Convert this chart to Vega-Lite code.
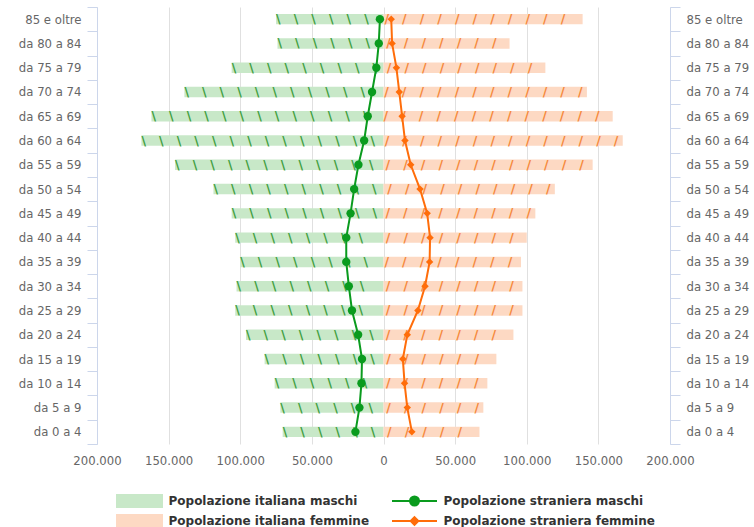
{
  "$schema": "https://vega.github.io/schema/vega-lite/v6.json",
  "autosize": {"type": "none"},
  "width": 573,
  "height": 437,
  "padding": {"left": 97, "right": 84, "top": 7, "bottom": 83},
  "config": {"view": {"stroke": null}, "font": "DejaVu Sans", "legend": {"gridAlign": "none"}},
  "datasets": {
    "pop": [
      {"eta": "85 e oltre", "serie": "Popolazione italiana maschi", "valore": -75000},
      {"eta": "da 80 a 84", "serie": "Popolazione italiana maschi", "valore": -74000},
      {"eta": "da 75 a 79", "serie": "Popolazione italiana maschi", "valore": -106000},
      {"eta": "da 70 a 74", "serie": "Popolazione italiana maschi", "valore": -139000},
      {"eta": "da 65 a 69", "serie": "Popolazione italiana maschi", "valore": -162000},
      {"eta": "da 60 a 64", "serie": "Popolazione italiana maschi", "valore": -169000},
      {"eta": "da 55 a 59", "serie": "Popolazione italiana maschi", "valore": -145500},
      {"eta": "da 50 a 54", "serie": "Popolazione italiana maschi", "valore": -118700},
      {"eta": "da 45 a 49", "serie": "Popolazione italiana maschi", "valore": -106000},
      {"eta": "da 40 a 44", "serie": "Popolazione italiana maschi", "valore": -103500},
      {"eta": "da 35 a 39", "serie": "Popolazione italiana maschi", "valore": -100000},
      {"eta": "da 30 a 34", "serie": "Popolazione italiana maschi", "valore": -102600},
      {"eta": "da 25 a 29", "serie": "Popolazione italiana maschi", "valore": -103500},
      {"eta": "da 20 a 24", "serie": "Popolazione italiana maschi", "valore": -96000},
      {"eta": "da 15 a 19", "serie": "Popolazione italiana maschi", "valore": -83000},
      {"eta": "da 10 a 14", "serie": "Popolazione italiana maschi", "valore": -76000},
      {"eta": "da 5 a 9", "serie": "Popolazione italiana maschi", "valore": -72000},
      {"eta": "da 0 a 4", "serie": "Popolazione italiana maschi", "valore": -70400},
      {"eta": "85 e oltre", "serie": "Popolazione italiana femmine", "valore": 139000},
      {"eta": "da 80 a 84", "serie": "Popolazione italiana femmine", "valore": 88000},
      {"eta": "da 75 a 79", "serie": "Popolazione italiana femmine", "valore": 113000},
      {"eta": "da 70 a 74", "serie": "Popolazione italiana femmine", "valore": 142000},
      {"eta": "da 65 a 69", "serie": "Popolazione italiana femmine", "valore": 160000},
      {"eta": "da 60 a 64", "serie": "Popolazione italiana femmine", "valore": 167000},
      {"eta": "da 55 a 59", "serie": "Popolazione italiana femmine", "valore": 146000},
      {"eta": "da 50 a 54", "serie": "Popolazione italiana femmine", "valore": 119600},
      {"eta": "da 45 a 49", "serie": "Popolazione italiana femmine", "valore": 106000},
      {"eta": "da 40 a 44", "serie": "Popolazione italiana femmine", "valore": 100000},
      {"eta": "da 35 a 39", "serie": "Popolazione italiana femmine", "valore": 96000},
      {"eta": "da 30 a 34", "serie": "Popolazione italiana femmine", "valore": 97000},
      {"eta": "da 25 a 29", "serie": "Popolazione italiana femmine", "valore": 97000},
      {"eta": "da 20 a 24", "serie": "Popolazione italiana femmine", "valore": 90700},
      {"eta": "da 15 a 19", "serie": "Popolazione italiana femmine", "valore": 78800},
      {"eta": "da 10 a 14", "serie": "Popolazione italiana femmine", "valore": 72500},
      {"eta": "da 5 a 9", "serie": "Popolazione italiana femmine", "valore": 69700},
      {"eta": "da 0 a 4", "serie": "Popolazione italiana femmine", "valore": 67000},
      {"eta": "85 e oltre", "serie": "Popolazione straniera maschi", "valore": -2500},
      {"eta": "da 80 a 84", "serie": "Popolazione straniera maschi", "valore": -3300},
      {"eta": "da 75 a 79", "serie": "Popolazione straniera maschi", "valore": -5000},
      {"eta": "da 70 a 74", "serie": "Popolazione straniera maschi", "valore": -8000},
      {"eta": "da 65 a 69", "serie": "Popolazione straniera maschi", "valore": -11000},
      {"eta": "da 60 a 64", "serie": "Popolazione straniera maschi", "valore": -13500},
      {"eta": "da 55 a 59", "serie": "Popolazione straniera maschi", "valore": -17500},
      {"eta": "da 50 a 54", "serie": "Popolazione straniera maschi", "valore": -20500},
      {"eta": "da 45 a 49", "serie": "Popolazione straniera maschi", "valore": -23000},
      {"eta": "da 40 a 44", "serie": "Popolazione straniera maschi", "valore": -26000},
      {"eta": "da 35 a 39", "serie": "Popolazione straniera maschi", "valore": -26000},
      {"eta": "da 30 a 34", "serie": "Popolazione straniera maschi", "valore": -24200},
      {"eta": "da 25 a 29", "serie": "Popolazione straniera maschi", "valore": -22000},
      {"eta": "da 20 a 24", "serie": "Popolazione straniera maschi", "valore": -17700},
      {"eta": "da 15 a 19", "serie": "Popolazione straniera maschi", "valore": -15000},
      {"eta": "da 10 a 14", "serie": "Popolazione straniera maschi", "valore": -15400},
      {"eta": "da 5 a 9", "serie": "Popolazione straniera maschi", "valore": -16800},
      {"eta": "da 0 a 4", "serie": "Popolazione straniera maschi", "valore": -19600},
      {"eta": "85 e oltre", "serie": "Popolazione straniera femmine", "valore": 5400},
      {"eta": "da 80 a 84", "serie": "Popolazione straniera femmine", "valore": 6000},
      {"eta": "da 75 a 79", "serie": "Popolazione straniera femmine", "valore": 9000},
      {"eta": "da 70 a 74", "serie": "Popolazione straniera femmine", "valore": 11000},
      {"eta": "da 65 a 69", "serie": "Popolazione straniera femmine", "valore": 13000},
      {"eta": "da 60 a 64", "serie": "Popolazione straniera femmine", "valore": 15000},
      {"eta": "da 55 a 59", "serie": "Popolazione straniera femmine", "valore": 19000},
      {"eta": "da 50 a 54", "serie": "Popolazione straniera femmine", "valore": 25500},
      {"eta": "da 45 a 49", "serie": "Popolazione straniera femmine", "valore": 30500},
      {"eta": "da 40 a 44", "serie": "Popolazione straniera femmine", "valore": 32500},
      {"eta": "da 35 a 39", "serie": "Popolazione straniera femmine", "valore": 32200},
      {"eta": "da 30 a 34", "serie": "Popolazione straniera femmine", "valore": 29000},
      {"eta": "da 25 a 29", "serie": "Popolazione straniera femmine", "valore": 24000},
      {"eta": "da 20 a 24", "serie": "Popolazione straniera femmine", "valore": 16600},
      {"eta": "da 15 a 19", "serie": "Popolazione straniera femmine", "valore": 13500},
      {"eta": "da 10 a 14", "serie": "Popolazione straniera femmine", "valore": 14700},
      {"eta": "da 5 a 9", "serie": "Popolazione straniera femmine", "valore": 16600},
      {"eta": "da 0 a 4", "serie": "Popolazione straniera femmine", "valore": 19800}
    ]
  },
  "data": {"name": "pop"},
  "resolve": {"axis": {"y": "independent"}},
  "layer": [
    {
      "transform": [{"filter": {"field": "serie", "oneOf": ["Popolazione italiana maschi", "Popolazione italiana femmine"]}}],
      "mark": {"type": "bar", "height": {"band": 0.43}},
      "encoding": {
        "y": {
          "field": "eta", "type": "nominal",
          "sort": ["85 e oltre", "da 80 a 84", "da 75 a 79", "da 70 a 74", "da 65 a 69", "da 60 a 64", "da 55 a 59", "da 50 a 54", "da 45 a 49", "da 40 a 44", "da 35 a 39", "da 30 a 34", "da 25 a 29", "da 20 a 24", "da 15 a 19", "da 10 a 14", "da 5 a 9", "da 0 a 4"],
          "scale": {"paddingInner": 0, "paddingOuter": 0},
          "axis": {"orient": "left", "title": null, "domainColor": "#ccd6eb", "tickColor": "#ccd6eb", "tickSize": 10, "tickBand": "extent", "labelColor": "#666666", "labelFontSize": 11.7, "labelPadding": 6, "grid": false}
        },
        "x": {
          "field": "valore", "type": "quantitative", "stack": null,
          "scale": {"domain": [-200000, 200000], "nice": false},
          "axis": {"title": null, "values": [-200000, -150000, -100000, -50000, 0, 50000, 100000, 150000, 200000], "labelExpr": "replace(format(abs(datum.value), ','), ',', '.')", "domain": false, "ticks": false, "labelPadding": 11, "labelColor": "#666666", "labelFontSize": 11.7, "labelFlush": false, "labelOverlap": false, "grid": true, "gridColor": "#e0e0e0"}
        },
        "color": {
          "field": "serie", "type": "nominal",
          "scale": {"domain": ["Popolazione italiana maschi", "Popolazione straniera maschi", "Popolazione italiana femmine", "Popolazione straniera femmine"], "range": ["#c8e8c8", "#0a9b1e", "#fdd9c3", "#ff6d0a"]},
          "legend": {
            "title": null, "orient": "none", "legendX": 19, "legendY": 484, "direction": "horizontal", "columns": 2, "gridAlign": "none",
            "padding": 0, "columnPadding": 21, "rowPadding": 0, "clipHeight": 20, "symbolSize": 2025, "symbolOpacity": 1, "symbolStrokeWidth": 2,
            "labelFont": "DejaVu Sans", "labelFontWeight": "bold", "labelFontSize": 12, "labelColor": "#333333", "labelLimit": 400, "labelOffset": 5.5,
            "encode": {
              "symbols": {
                "update": {
                  "shape": {"signal": "indexof(datum.value, 'italiana') >= 0 ? 'M-1,-0.27H1V0.27H-1Z' : (indexof(datum.value, 'maschi') >= 0 ? 'M-1,0H1M-0.2,0A0.2,0.2,0,1,0,0.2,0A0.2,0.2,0,1,0,-0.2,0Z' : 'M-1,0H1M0,-0.17L0.17,0L0,0.17L-0.17,0Z')"},
                  "fill": {"scale": "color", "field": "value"},
                  "stroke": {"signal": "indexof(datum.value, 'italiana') >= 0 ? 'transparent' : scale('color', datum.value)"},
                  "strokeWidth": {"value": 2},
                  "opacity": {"value": 1}
                }
              }
            }
          }
        }
      }
    },
    {
      "transform": [{"filter": {"field": "serie", "equal": "Popolazione italiana maschi"}}],
      "mark": {"type": "text", "align": "left", "baseline": "middle", "fontSize": 12.5, "fontWeight": "bold", "font": "DejaVu Sans", "color": "#3e9e3e", "ellipsis": "\u00a0", "limit": {"expr": "scale('x', 0) - scale('x', datum.valore)"}},
      "encoding": {
        "y": {"field": "eta", "type": "nominal", "sort": ["85 e oltre", "da 80 a 84", "da 75 a 79", "da 70 a 74", "da 65 a 69", "da 60 a 64", "da 55 a 59", "da 50 a 54", "da 45 a 49", "da 40 a 44", "da 35 a 39", "da 30 a 34", "da 25 a 29", "da 20 a 24", "da 15 a 19", "da 10 a 14", "da 5 a 9", "da 0 a 4"],
          "axis": {"orient": "right", "title": null, "domainColor": "#ccd6eb", "tickColor": "#ccd6eb", "tickSize": 10, "tickBand": "extent", "labelColor": "#666666", "labelFontSize": 11.7, "labelPadding": 6, "grid": false}},
        "x": {"field": "valore", "type": "quantitative"},
        "text": {"value": "\u00a0\\\u00a0\u00a0\u00a0\\\u00a0\u00a0\u00a0\\\u00a0\u00a0\u00a0\\\u00a0\u00a0\u00a0\\\u00a0\u00a0\u00a0\\\u00a0\u00a0\u00a0\\\u00a0\u00a0\u00a0\\\u00a0\u00a0\u00a0\\\u00a0\u00a0\u00a0\\\u00a0\u00a0\u00a0\\\u00a0\u00a0\u00a0\\\u00a0\u00a0\u00a0\\\u00a0\u00a0\u00a0\\\u00a0\u00a0\u00a0\\\u00a0\u00a0\u00a0\\\u00a0\u00a0\u00a0\\\u00a0\u00a0\u00a0\\\u00a0\u00a0\u00a0"}
      }
    },
    {
      "transform": [{"filter": {"field": "serie", "equal": "Popolazione italiana femmine"}}],
      "mark": {"type": "text", "align": "right", "baseline": "middle", "fontSize": 12.5, "fontWeight": "bold", "font": "DejaVu Sans", "color": "#f5883a", "ellipsis": "\u00a0", "limit": {"expr": "scale('x', datum.valore) - scale('x', 0)"}},
      "encoding": {
        "y": {"field": "eta", "type": "nominal", "sort": ["85 e oltre", "da 80 a 84", "da 75 a 79", "da 70 a 74", "da 65 a 69", "da 60 a 64", "da 55 a 59", "da 50 a 54", "da 45 a 49", "da 40 a 44", "da 35 a 39", "da 30 a 34", "da 25 a 29", "da 20 a 24", "da 15 a 19", "da 10 a 14", "da 5 a 9", "da 0 a 4"], "axis": null},
        "x": {"field": "valore", "type": "quantitative"},
        "text": {"value": "\u00a0\u00a0/\u00a0\u00a0\u00a0/\u00a0\u00a0\u00a0/\u00a0\u00a0\u00a0/\u00a0\u00a0\u00a0/\u00a0\u00a0\u00a0/\u00a0\u00a0\u00a0/\u00a0\u00a0\u00a0/\u00a0\u00a0\u00a0/\u00a0\u00a0\u00a0/\u00a0\u00a0\u00a0/\u00a0\u00a0\u00a0/\u00a0\u00a0\u00a0/\u00a0\u00a0\u00a0/\u00a0\u00a0\u00a0/\u00a0\u00a0\u00a0/\u00a0\u00a0\u00a0/\u00a0\u00a0\u00a0"}
      }
    },
    {
      "transform": [{"filter": {"field": "serie", "oneOf": ["Popolazione straniera maschi", "Popolazione straniera femmine"]}}],
      "mark": {"type": "line", "strokeWidth": 2},
      "encoding": {
        "y": {"field": "eta", "type": "nominal", "sort": ["85 e oltre", "da 80 a 84", "da 75 a 79", "da 70 a 74", "da 65 a 69", "da 60 a 64", "da 55 a 59", "da 50 a 54", "da 45 a 49", "da 40 a 44", "da 35 a 39", "da 30 a 34", "da 25 a 29", "da 20 a 24", "da 15 a 19", "da 10 a 14", "da 5 a 9", "da 0 a 4"], "axis": null},
        "x": {"field": "valore", "type": "quantitative"},
        "color": {"field": "serie", "type": "nominal"},
        "order": {"value": null}
      }
    },
    {
      "transform": [{"filter": {"field": "serie", "equal": "Popolazione straniera maschi"}}],
      "mark": {"type": "point", "shape": "circle", "filled": true, "size": 70, "opacity": 1},
      "encoding": {
        "y": {"field": "eta", "type": "nominal", "sort": ["85 e oltre", "da 80 a 84", "da 75 a 79", "da 70 a 74", "da 65 a 69", "da 60 a 64", "da 55 a 59", "da 50 a 54", "da 45 a 49", "da 40 a 44", "da 35 a 39", "da 30 a 34", "da 25 a 29", "da 20 a 24", "da 15 a 19", "da 10 a 14", "da 5 a 9", "da 0 a 4"], "axis": null},
        "x": {"field": "valore", "type": "quantitative"},
        "color": {"field": "serie", "type": "nominal"}
      }
    },
    {
      "transform": [{"filter": {"field": "serie", "equal": "Popolazione straniera femmine"}}],
      "mark": {"type": "point", "shape": "diamond", "filled": true, "size": 55, "opacity": 1},
      "encoding": {
        "y": {"field": "eta", "type": "nominal", "sort": ["85 e oltre", "da 80 a 84", "da 75 a 79", "da 70 a 74", "da 65 a 69", "da 60 a 64", "da 55 a 59", "da 50 a 54", "da 45 a 49", "da 40 a 44", "da 35 a 39", "da 30 a 34", "da 25 a 29", "da 20 a 24", "da 15 a 19", "da 10 a 14", "da 5 a 9", "da 0 a 4"], "axis": null},
        "x": {"field": "valore", "type": "quantitative"},
        "color": {"field": "serie", "type": "nominal"}
      }
    }
  ]
}
